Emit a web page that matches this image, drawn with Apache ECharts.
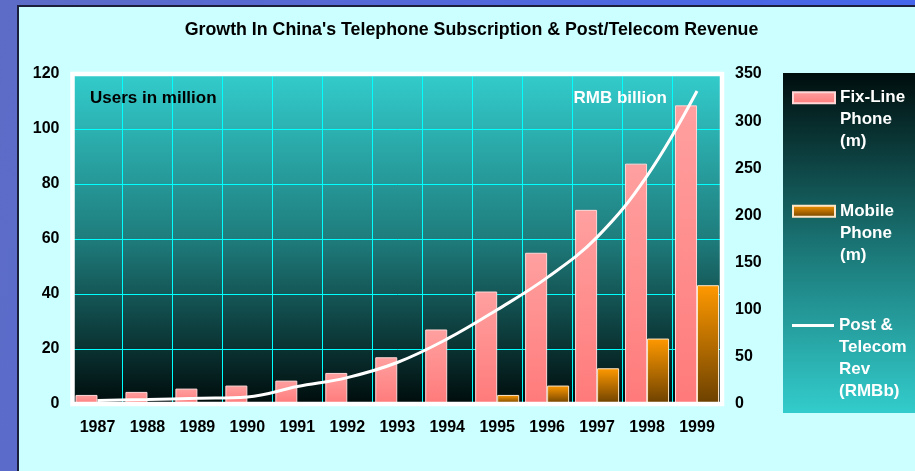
<!DOCTYPE html>
<html>
<head>
<meta charset="utf-8">
<script src="https://cdn.jsdelivr.net/npm/echarts@6/dist/echarts.min.js"></script>
<style>
  html, body { margin: 0; padding: 0; }
  body {
    width: 915px; height: 471px; overflow: hidden; position: relative;
    background: linear-gradient(100deg, #5d6cc6 0%, #5468d8 40%, #4266ee 100%);
  }
  #panel {
    position: absolute; left: 17px; top: 5px; right: 0; bottom: 0;
    background: #ccffff;
    border-left: 2px solid #1c1f3c; border-top: 2px solid #1c1f3c;
  }
  #chart { position: absolute; left: 0; top: 0; width: 915px; height: 471px; }
</style>
</head>
<body>
<div id="panel"></div>
<div id="chart"></div>
<script>
// Years on the category axis
const years = ['1987', '1988', '1989', '1990', '1991', '1992', '1993',
               '1994', '1995', '1996', '1997', '1998', '1999'];
// Subscribers, million users (left axis)
const fixLine = [3.3, 4.4, 5.6, 6.7, 8.5, 11.3, 17.0, 27.1, 40.9, 55.0, 70.6, 87.4, 108.6];
const mobile = [null, null, null, null, null, null, null, null, 3.3, 6.7, 13.0, 23.8, 43.2];
// Post & telecom revenue, RMB billion (right axis)
const revenue = [3.7, 4.8, 6.0, 7.5, 18.5, 28.0, 44.0, 69.0, 100.0, 134.0, 177.0, 242.0, 332.0];
// Series names as shown in the legend
const seriesNames = ['Fix-Line\nPhone\n(m)', 'Mobile\nPhone\n(m)', 'Post &\nTelecom\nRev\n(RMBb)'];

const FONT = "'Liberation Sans', Arial, sans-serif";
const chart = echarts.init(document.getElementById('chart'), null, { renderer: 'canvas' });
const G = echarts.graphic;

const labelStyle = { color: '#000', fontSize: 16, fontWeight: 'bold', fontFamily: FONT };

// Plot rectangle (grid) in pixels
const PLOT = { left: 72.5, top: 74, right: 722, bottom: 404 };

// One legend block per series so each can sit at its own height;
// leading blank lines keep the swatch level with the first text line.
function legendBlock(name, top, pad, swatchHeight) {
  return {
    orient: 'vertical',
    left: 792, top: top, padding: 0,
    itemWidth: 42, itemHeight: swatchHeight,
    icon: 'rect',
    selectedMode: false,
    data: [name],
    formatter: n => pad + n,
    textStyle: {
      color: '#fff', fontSize: 17, fontWeight: 'bold', fontFamily: FONT, lineHeight: 22
    }
  };
}

chart.setOption({
  backgroundColor: 'transparent',
  animation: false,
  graphic: [
    {
      type: 'rect', left: 783, top: 73, z: 0, silent: true,
      shape: { width: 140, height: 340 },
      style: {
        fill: new G.LinearGradient(0, 0, 0, 1, [
          { offset: 0, color: '#000d0d' },
          { offset: 0.5, color: '#1a7373' },
          { offset: 1, color: '#33cccc' }
        ])
      }
    },
    {
      type: 'text', x: 471.5, y: 30.5, z: 10, silent: true,
      style: {
        text: "Growth In China's Telephone Subscription & Post/Telecom Revenue",
        fill: '#000', font: 'bold 17.8px ' + FONT, align: 'center', verticalAlign: 'middle'
      }
    },
    {
      type: 'text', x: 90, y: 98, z: 10, silent: true,
      style: { text: 'Users in million', fill: '#000', font: 'bold 17px ' + FONT, verticalAlign: 'middle' }
    },
    {
      type: 'text', x: 667, y: 98, z: 10, silent: true,
      style: { text: 'RMB billion', fill: '#fff', font: 'bold 17px ' + FONT, align: 'right', verticalAlign: 'middle' }
    },
    {
      // white frame around the plot area
      type: 'rect', z: 100, silent: true,
      shape: { x: PLOT.left, y: PLOT.top, width: PLOT.right - PLOT.left, height: PLOT.bottom - PLOT.top },
      style: { fill: null, stroke: '#ffffff', lineWidth: 4.5 }
    }
  ],
  legend: [
    legendBlock(seriesNames[0], 42.8, '\n\n', 11),
    legendBlock(seriesNames[1], 156.2, '\n\n', 11),
    legendBlock(seriesNames[2], 248.5, '\n\n\n', 3)
  ],
  grid: {
    left: PLOT.left, right: 915 - PLOT.right, top: PLOT.top, bottom: 471 - PLOT.bottom,
    show: true,
    borderWidth: 0,
    backgroundColor: new G.LinearGradient(0, 0, 0, 1, [
      { offset: 0, color: '#33cccc' },
      { offset: 0.5, color: '#1f7c7c' },
      { offset: 1, color: '#000c0c' }
    ])
  },
  xAxis: {
    type: 'category',
    data: years,
    axisLine: { show: false },
    axisTick: { show: false },
    axisLabel: Object.assign({ margin: 16, interval: 0 }, labelStyle),
    splitLine: { show: true, interval: 0, lineStyle: { color: '#00ffff', width: 1 } }
  },
  yAxis: [
    {
      type: 'value', min: 0, max: 120, interval: 20,
      axisLine: { show: false }, axisTick: { show: false },
      axisLabel: Object.assign({ margin: 13 }, labelStyle),
      splitLine: { show: true, lineStyle: { color: '#00ffff', width: 1 } }
    },
    {
      type: 'value', min: 0, max: 350, interval: 50,
      axisLine: { show: false }, axisTick: { show: false },
      axisLabel: Object.assign({ margin: 13 }, labelStyle),
      splitLine: { show: false }
    }
  ],
  series: [
    {
      name: seriesNames[0],
      type: 'bar',
      data: fixLine,
      barWidth: 22, barGap: '0%',
      itemStyle: {
        color: new G.LinearGradient(0, 0, 0, 1, [
          { offset: 0, color: '#ffa0a0' },
          { offset: 1, color: '#ff7a7a' }
        ]),
        borderColor: '#ffd6d6', borderWidth: 1
      }
    },
    {
      name: seriesNames[1],
      type: 'bar',
      data: mobile,
      barWidth: 22,
      itemStyle: {
        color: new G.LinearGradient(0, 0, 0, 1, [
          { offset: 0, color: '#ff9900' },
          { offset: 1, color: '#6b4000' }
        ]),
        borderColor: '#ffe6c6', borderWidth: 1
      }
    },
    {
      name: seriesNames[2],
      type: 'line',
      yAxisIndex: 1,
      data: revenue,
      smooth: 0.4,
      symbol: 'none',
      lineStyle: { color: '#ffffff', width: 3 },
      itemStyle: { color: '#ffffff' }
    }
  ]
});
</script>
</body>
</html>
